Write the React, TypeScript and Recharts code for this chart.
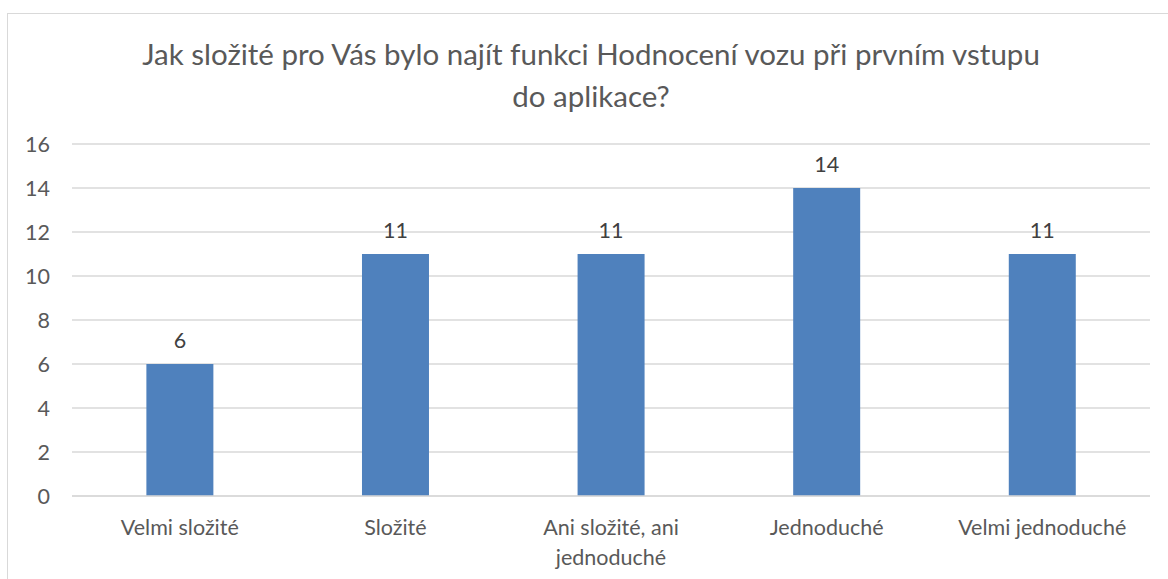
import React from 'react';
import { BarChart, Bar, XAxis, YAxis, CartesianGrid, LabelList, Text } from 'recharts';

const categories = ['Velmi složité', 'Složité', 'Ani složité, ani jednoduché', 'Jednoduché', 'Velmi jednoduché'];
const counts = [6, 11, 11, 14, 11];
const yTicks = [0, 2, 4, 6, 8, 10, 12, 14, 16];
const titleLines = ['Jak složité pro Vás bylo najít funkci Hodnocení vozu při prvním vstupu', 'do aplikace?'];

const FONT = 'Lato, "Open Sans", sans-serif';

const data = categories.map((name, i) => ({ name, value: counts[i] }));

const CategoryTick = (props: any) => {
  const { x, y, payload } = props;
  return (
    <Text
      x={x}
      y={y}
      width={172}
      textAnchor="middle"
      verticalAnchor="start"
      fill="#595959"
      fontSize={21.5}
      fontFamily={FONT}
      lineHeight={30}
    >
      {payload.value}
    </Text>
  );
};

const App = () => {
  return (
    <div style={{ position: 'absolute', left: 0, top: 0, width: 1168, height: 579, background: '#fff', overflow: 'hidden' }}>
      <div
        style={{
          position: 'absolute',
          left: 7,
          top: 13,
          width: 1200,
          height: 600,
          border: '1.5px solid #d9d9d9',
          boxSizing: 'border-box',
        }}
      />
      <div
        style={{
          position: 'absolute',
          left: 0,
          width: 1182,
          top: 33,
          textAlign: 'center',
          fontFamily: FONT,
          fontSize: 29.5,
          lineHeight: '42px',
          color: '#595959',
        }}
      >
        {titleLines.map((t) => (
          <div key={t}>{t}</div>
        ))}
      </div>
      <div style={{ position: 'absolute', left: 0, top: 0 }}>
        <BarChart
          width={1168}
          height={579}
          data={data}
          margin={{ top: 144, right: 18, left: 0, bottom: 53 }}
          barCategoryGap="34.5%"
        >
          <CartesianGrid vertical={false} stroke="#d9d9d9" strokeWidth={1.5} />
          <XAxis
            dataKey="name"
            height={30}
            axisLine={{ stroke: '#d9d9d9', strokeWidth: 1.5 }}
            tickLine={false}
            tickSize={0}
            tickMargin={24}
            interval={0}
            tick={<CategoryTick />}
          />
          <YAxis
            width={72}
            domain={[0, 16]}
            ticks={yTicks}
            axisLine={false}
            tickLine={false}
            tickSize={0}
            tickMargin={22}
            tick={{ fill: '#595959', fontSize: 21.5, fontFamily: FONT }}
          />
          <Bar dataKey="value" fill="#4f81bd" isAnimationActive={false}>
            <LabelList dataKey="value" position="top" offset={16} fill="#404040" fontSize={21.5} fontFamily={FONT} />
          </Bar>
        </BarChart>
      </div>
    </div>
  );
};

export default App;
